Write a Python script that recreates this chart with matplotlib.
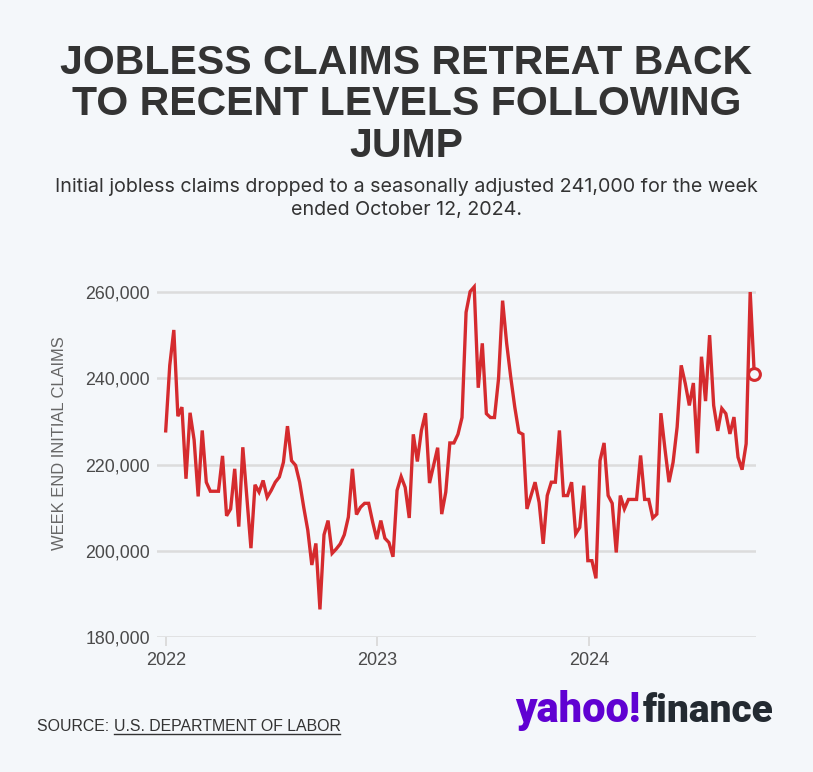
import matplotlib.pyplot as plt
import matplotlib.dates as mdates
import pandas as pd

# weekly initial claims, seasonally adjusted (thousands), week ending Jan 1 2022 .. Oct 12 2024
claims_k = [
    227.8, 243.0, 251.2, 231.2, 233.3, 216.7, 232.0, 225.7, 212.6, 227.9,
    215.9, 213.8, 213.8, 213.8, 222.0, 208.1, 209.7, 219.0, 205.6, 224.0,
    212.3, 200.6, 215.3, 213.6, 216.3, 212.4, 214.0, 215.9, 217.1, 220.5,
    228.9, 220.9, 219.8, 215.9, 210.1, 204.8, 196.7, 201.7, 186.4, 203.7,
    207.0, 199.4, 200.4, 201.6, 203.7, 207.8, 219.0, 208.4, 210.1, 211.0,
    211.0, 206.6, 202.7, 207.0, 202.9, 201.9, 198.6, 214.0, 217.2, 214.7,
    207.6, 227.0, 220.7, 227.9, 231.9, 215.7, 219.8, 223.9, 208.5, 213.6,
    225.0, 225.0, 227.0, 230.9, 255.3, 260.1, 261.2, 237.8, 248.1, 231.8,
    230.9, 230.9, 239.9, 258.0, 248.1, 240.3, 233.3, 227.5, 227.0, 209.7,
    212.8, 215.9, 211.2, 201.6, 212.8, 215.9, 215.9, 227.9, 212.8, 212.8,
    215.9, 203.9, 205.4, 215.1, 197.7, 197.7, 193.6, 220.9, 225.0, 212.8,
    211.0, 199.6, 212.8, 209.7, 211.9, 211.9, 211.9, 222.1, 211.9, 211.9,
    207.6, 208.5, 231.9, 223.6, 215.9, 220.5, 228.7, 243.0, 238.8, 233.7,
    238.9, 222.6, 245.0, 234.7, 250.0, 233.7, 227.8, 233.0, 231.8, 227.1,
    231.0, 221.7, 218.8, 224.8, 260.0, 241.0,
]
weeks = pd.date_range("2022-01-01", periods=len(claims_k), freq="7D")
claims = [v * 1000 for v in claims_k]

y_ticks = [180000, 200000, 220000, 240000, 260000]

title_lines = ["JOBLESS CLAIMS RETREAT BACK", "TO RECENT LEVELS FOLLOWING", "JUMP"]
subtitle_lines = [
    "Initial jobless claims dropped to a seasonally adjusted 241,000 for the week",
    "ended October 12, 2024.",
]

BG = "#f4f7fa"
RED = "#d52b2e"
GRID = "#dcdcdc"
TXT = "#4a4a4a"
SANS = ["Liberation Sans", "DejaVu Sans"]

W, H = 813, 772
fig = plt.figure(figsize=(W / 100, H / 100), dpi=100, facecolor=BG)


def px(x, y):
    # pixel position (from top-left) -> figure fraction
    return x / W, 1 - y / H


# titles
for i, line in enumerate(title_lines):
    fig.text(*px(W / 2, 73.5 + i * 41.7), line, ha="center", va="baseline",
             fontsize=29.5, fontweight="bold", color="#333333", family=SANS)
for i, line in enumerate(subtitle_lines):
    fig.text(*px(W / 2, 192 + i * 23.3), line, ha="center", va="baseline",
             fontsize=14.2, color="#333333", family=["Inter", "Roboto", "DejaVu Sans"])

# axes area
left, right, top, bottom = 157, 756, 283.4, 637
ax = fig.add_axes([left / W, 1 - bottom / H, (right - left) / W, (bottom - top) / H])
ax.set_facecolor(BG)

ax.plot(weeks, claims, color=RED, lw=2.4, solid_joinstyle="miter", clip_on=False, zorder=3)
ax.plot(weeks[-1], claims[-1], "o", ms=8.5, mfc=BG, mec=RED, mew=2.2, zorder=4, clip_on=False)

ax.set_ylim(180000, 262000)
ax.set_xlim(weeks[0] - pd.Timedelta(days=15), weeks[-1] + pd.Timedelta(days=3))
ax.set_yticks(y_ticks)
ax.set_yticklabels([f"{v:,}" for v in y_ticks], family=SANS, fontsize=12.8, color=TXT)
ax.grid(axis="y", color=GRID, lw=1.8, zorder=0)
ax.tick_params(axis="y", length=0, pad=5)

ax.xaxis.set_major_locator(mdates.YearLocator())
ax.xaxis.set_major_formatter(mdates.DateFormatter("%Y"))
ax.tick_params(axis="x", length=6.5, width=1.4, color=GRID, pad=4, labelsize=13, labelcolor=TXT)
for lab in ax.get_xticklabels():
    lab.set_family(SANS)

for s in ax.spines.values():
    s.set_visible(False)

fig.text(*px(60, 443), "WEEK END INITIAL CLAIMS", rotation=90, ha="center", va="center",
         fontsize=11.9, color="#666666", family=SANS)

# source + underline
src1 = fig.text(*px(37, 731), "SOURCE: ", ha="left", va="baseline",
                fontsize=11.4, color="#333333", family=SANS)
fig.canvas.draw()
r = fig.canvas.get_renderer()
bb = src1.get_window_extent(r)
src2 = fig.text(bb.x1 / W, 1 - 731 / H, "U.S. DEPARTMENT OF LABOR", ha="left", va="baseline",
                fontsize=11.4, color="#333333", family=SANS)
bb2 = src2.get_window_extent(r)
fig.add_artist(plt.Line2D([bb2.x0 / W, bb2.x1 / W], [1 - 733.5 / H] * 2,
                          color="#333333", lw=1.0))

# logo
fig.text(*px(641, 722), "yahoo!", ha="right", va="baseline", fontsize=30,
         fontweight="black", color="#6001d2", family=["Roboto", "DejaVu Sans"])
fig.text(*px(643, 722), "finance", ha="left", va="baseline", fontsize=28,
         fontweight="black", color="#232a31", family=["Roboto", "DejaVu Sans"])

fig.savefig("out.png", dpi=100, facecolor=BG)
